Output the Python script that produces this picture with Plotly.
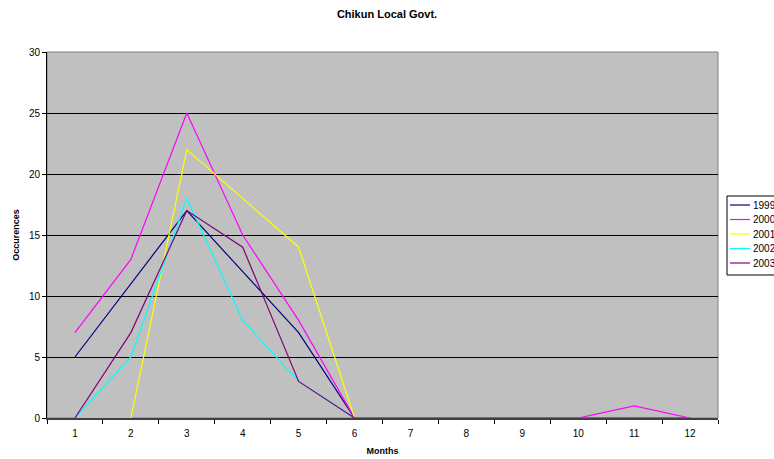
import plotly.graph_objects as go

months = ["1", "2", "3", "4", "5", "6", "7", "8", "9", "10", "11", "12"]
years = ["1999", "2000", "2001", "2002", "2003"]
occ_1999 = [5, 11, 17, 12, 7, 0, 0, 0, 0, 0, 0, 0]
occ_2000 = [7, 13, 25, 15, 8, 0, 0, 0, 0, 0, 1, 0]
occ_2001 = [0, 0, 22, 18, 14, 0, 0, 0, 0, 0, 0, 0]
occ_2002 = [0, 5, 18, 8, 3, 0, 0, 0, 0, 0, 0, 0]
occ_2003 = [0, 7, 17, 14, 3, 0, 0, 0, 0, 0, 0, 0]
y_ticks = [0, 5, 10, 15, 20, 25, 30]

series = [occ_1999, occ_2000, occ_2001, occ_2002, occ_2003]
colors = ["#000080", "#FF00FF", "#FFFF00", "#00FFFF", "#800080"]

FONT = "Liberation Sans, Arial, sans-serif"

# plot area in pixels
W, H = 774, 459
L, R, T, B = 47, 56, 52, 41
PW, PH = W - L - R, H - T - B


def px_x(px):
    return (px - L) / PW


def px_y(py):
    return (H - B - py) / PH


fig = go.Figure()
for name, vals, col in zip(years, series, colors):
    fig.add_trace(go.Scatter(
        x=months, y=vals, name=name, mode="lines",
        line=dict(color=col, width=1.2), showlegend=False,
    ))

# compact legend box on the right, partly running off the page edge
shapes = [
    dict(type="rect", xref="paper", yref="paper", x0=0, x1=1, y0=0, y1=1,
         line=dict(color="#808080", width=1), layer="below"),
    dict(type="rect", xref="paper", yref="paper",
         x0=px_x(727), x1=px_x(800), y0=px_y(275), y1=px_y(196),
         line=dict(color="black", width=1), fillcolor="white"),
]
annotations = []
row_y = [205, 219.5, 234, 248.5, 263]
for name, col, ry in zip(years, colors, row_y):
    shapes.append(dict(type="line", xref="paper", yref="paper",
                       x0=px_x(730), x1=px_x(750), y0=px_y(ry), y1=px_y(ry),
                       line=dict(color=col, width=1.2)))
    annotations.append(dict(text=name, xref="paper", yref="paper",
                            x=px_x(751), y=px_y(ry), xanchor="left", yanchor="middle",
                            showarrow=False, font=dict(size=10, family=FONT)))

fig.update_layout(
    width=W, height=H,
    margin=dict(l=L, r=R, t=T, b=B, autoexpand=False),
    paper_bgcolor="white",
    plot_bgcolor="#C0C0C0",
    font=dict(family=FONT, size=10, color="black"),
    title=dict(text="<b>Chikun Local Govt.</b>", x=0.5, xanchor="center",
               y=1 - 14 / H, yanchor="middle", font=dict(size=11, family=FONT)),
    showlegend=False,
    xaxis=dict(
        type="category", range=[-0.5, 11.5], tickson="boundaries",
        ticks="outside", ticklen=4, tickcolor="black", ticklabelstandoff=5,
        showline=True, linecolor="#404040", linewidth=2,
        showgrid=False, zeroline=False, tickfont=dict(size=10),
        title=dict(text="<b>Months</b>", font=dict(size=9), standoff=10),
    ),
    yaxis=dict(
        range=[0, 30], tickvals=y_ticks, ticks="outside", ticklen=4,
        tickcolor="black", showline=True, linecolor="black", linewidth=1,
        showgrid=True, gridcolor="black", gridwidth=1, zeroline=False,
        tickfont=dict(size=10),
        title=dict(text="<b>Occurences</b>", font=dict(size=9), standoff=7),
    ),
    shapes=shapes,
    annotations=annotations,
)

fig.write_html("out.html")
